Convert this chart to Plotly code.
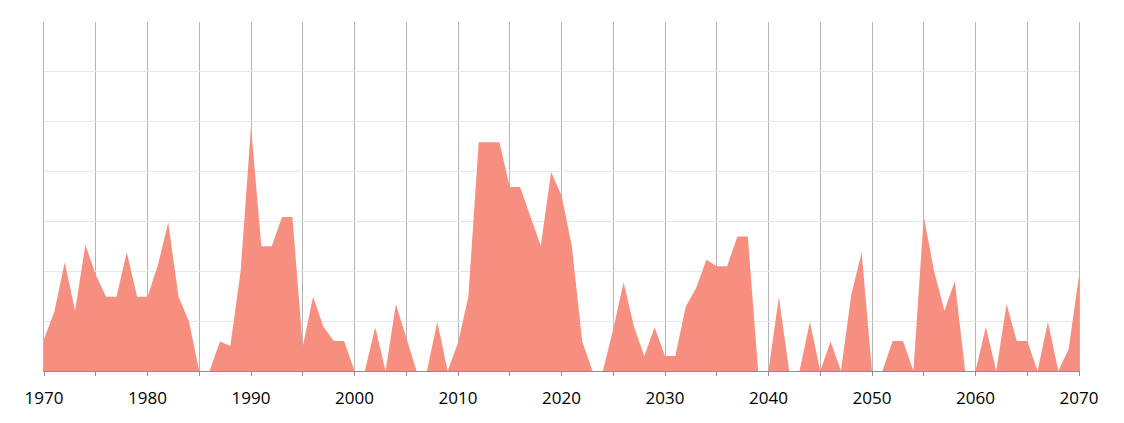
import plotly.graph_objects as go

years = list(range(1970, 2071))

values = [
    0.64, 1.19, 2.18, 1.21, 2.53, 1.93, 1.49, 1.49, 2.38, 1.49,  # 1970s
    1.49, 2.12, 2.98, 1.49, 1.00, 0.00, 0.00, 0.59, 0.50, 2.00,  # 1980s
    4.90, 2.50, 2.50, 3.09, 3.09, 0.49, 1.49, 0.89, 0.60, 0.60,  # 1990s
    0.00, 0.00, 0.88, 0.00, 1.34, 0.66, 0.00, 0.00, 0.99, 0.00,  # 2000s
    0.56, 1.49, 4.59, 4.59, 4.59, 3.69, 3.69, 3.10, 2.51, 3.99,  # 2010s
    3.52, 2.50, 0.59, 0.00, 0.00, 0.84, 1.78, 0.89, 0.30, 0.88,  # 2020s
    0.30, 0.30, 1.29, 1.66, 2.23, 2.10, 2.10, 2.70, 2.70, 0.00,  # 2030s
    0.00, 1.49, 0.00, 0.00, 0.99, 0.00, 0.59, 0.00, 1.53, 2.38,  # 2040s
    0.00, 0.00, 0.60, 0.60, 0.00, 3.10, 2.00, 1.21, 1.80, 0.00,  # 2050s
    0.00, 0.89, 0.00, 1.34, 0.60, 0.60, 0.00, 0.99, 0.00, 0.44,  # 2060s
    1.91,
]

fig = go.Figure(
    go.Scatter(
        x=years,
        y=values,
        mode="lines",
        fill="tozeroy",
        line=dict(width=0, color="#F68F7F"),
        fillcolor="#F68F7F",
        hoverinfo="x+y",
    )
)

# page body has an 8px margin, so shift the plot area back by that much
fig.update_layout(
    width=1124,
    height=423,
    margin=dict(l=36, r=53, t=14, b=60),
    plot_bgcolor="white",
    paper_bgcolor="white",
    showlegend=False,
    font=dict(family="Open Sans, Liberation Sans, sans-serif", size=17, color="#000000"),
)

fig.update_xaxes(
    range=[1970, 2070],
    tick0=1970,
    dtick=10,
    showgrid=True,
    gridcolor="#b4b4b4",
    gridwidth=1,
    showline=True,
    linecolor="#8e8e8e",
    linewidth=1,
    ticks="outside",
    ticklen=4,
    tickcolor="#8e8e8e",
    ticklabelstandoff=8,
    minor=dict(dtick=5, showgrid=True, gridcolor="#b4b4b4", ticks="outside", ticklen=4, tickcolor="#8e8e8e"),
    zeroline=False,
    layer="below traces",
)

fig.update_yaxes(
    range=[0, 7],
    dtick=1,
    showgrid=True,
    gridcolor="#e6e6e6",
    gridwidth=1,
    showticklabels=False,
    showline=True,
    linecolor="#b4b4b4",
    mirror=True,
    zeroline=False,
)

fig.write_html("out.html")
